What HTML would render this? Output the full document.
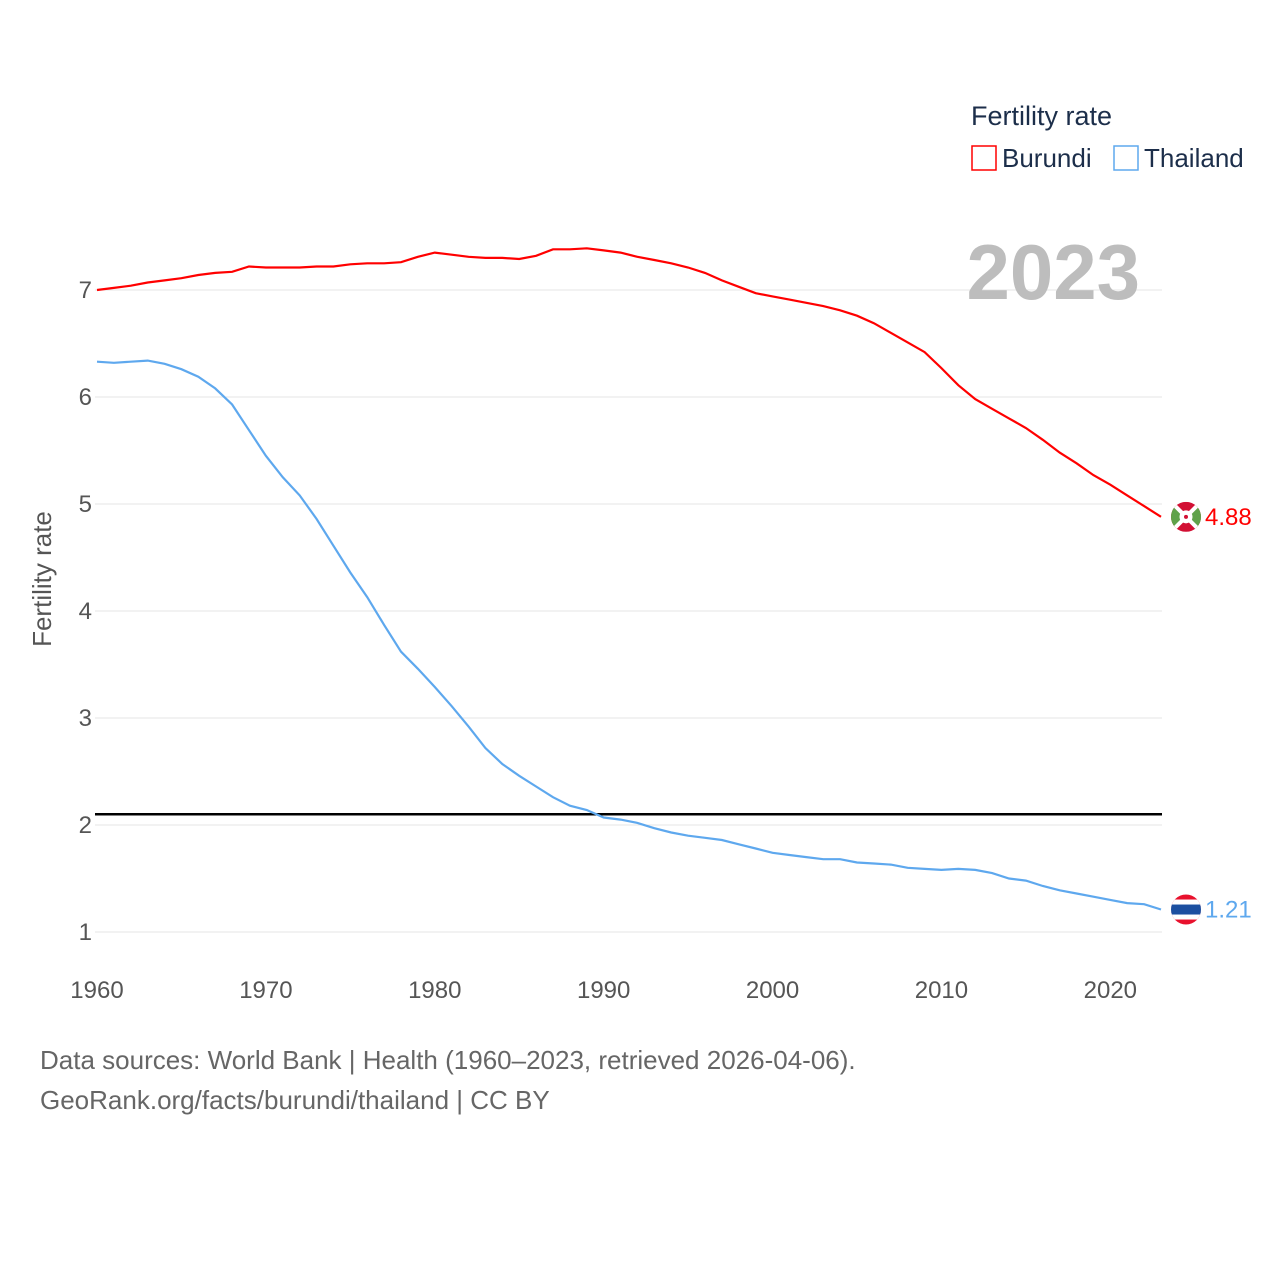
<!DOCTYPE html>
<html><head><meta charset="utf-8">
<style>
body{margin:0;background:#fff;font-family:"Liberation Sans",sans-serif}
svg{display:block}
text{font-family:"Liberation Sans",sans-serif}
</style></head>
<body>
<svg id="chart" width="1280" height="1280" viewBox="0 0 1280 1280">
<g id="grid"></g>
<g id="yticks"></g>
<g id="xticks"></g>
<text x="51" y="579" transform="rotate(-90 51 579)" text-anchor="middle" font-size="26" fill="#555">Fertility rate</text>
<text x="1140" y="299" text-anchor="end" font-size="78" font-weight="bold" fill="#bdbdbd">2023</text>
<line id="repl" stroke="#000" stroke-width="2.5"/>
<path id="bur" fill="none" stroke="#ff0000" stroke-width="2.2"/>
<path id="tha" fill="none" stroke="#5ea8ee" stroke-width="2.2"/>
<g>
<text x="971" y="125" font-size="27" fill="#1c2e4a">Fertility rate</text>
<g>
<rect x="972" y="146" width="24" height="24" fill="#fff" stroke="#ff0000" stroke-width="1.5"/>
<text x="1002" y="167" font-size="26" fill="#1c2e4a">Burundi</text></g>
<g>
<rect x="1114" y="146" width="24" height="24" fill="#fff" stroke="#5ea8ee" stroke-width="1.5"/>
<text x="1144" y="167" font-size="26" fill="#1c2e4a">Thailand</text></g>
</g>
<defs>
<clipPath id="cB"><circle id="cBc" cx="1186" cy="0" r="15"/></clipPath>
<clipPath id="cT"><circle id="cTc" cx="1186" cy="0" r="15"/></clipPath>
</defs>
<g id="flagB" clip-path="url(#cB)"></g>
<g id="flagT" clip-path="url(#cT)"></g>
<text id="labB" font-size="24" fill="#ff0000"></text>
<text id="labT" font-size="24" fill="#5ea8ee"></text>
<text x="40" y="1069" font-size="26" fill="#666">Data sources: World Bank | Health (1960–2023, retrieved 2026-04-06).</text>
<text x="40" y="1109" font-size="26" fill="#666">GeoRank.org/facts/burundi/thailand | CC BY</text>
</svg>
<script>
const years=[];for(let y=1960;y<=2023;y++)years.push(y);
const burundi=[7.00,7.02,7.04,7.07,7.09,7.11,7.14,7.16,7.17,7.22,7.21,7.21,7.21,7.22,7.22,7.24,7.25,7.25,7.26,7.31,7.35,7.33,7.31,7.30,7.30,7.29,7.32,7.38,7.38,7.39,7.37,7.35,7.31,7.28,7.25,7.21,7.16,7.09,7.03,6.97,6.94,6.91,6.88,6.85,6.81,6.76,6.69,6.60,6.51,6.42,6.27,6.11,5.98,5.89,5.80,5.71,5.60,5.48,5.38,5.27,5.18,5.08,4.98,4.88];
const thailand=[6.33,6.32,6.33,6.34,6.31,6.26,6.19,6.08,5.93,5.69,5.45,5.25,5.08,4.86,4.61,4.36,4.13,3.87,3.62,3.46,3.29,3.11,2.92,2.72,2.57,2.46,2.36,2.26,2.18,2.14,2.07,2.05,2.02,1.97,1.93,1.90,1.88,1.86,1.82,1.78,1.74,1.72,1.70,1.68,1.68,1.65,1.64,1.63,1.60,1.59,1.58,1.59,1.58,1.55,1.50,1.48,1.43,1.39,1.36,1.33,1.30,1.27,1.26,1.21];
const yTicks=[1,2,3,4,5,6,7];
const xTicks=[1960,1970,1980,1990,2000,2010,2020];
const replacement=2.1;
const NS="http://www.w3.org/2000/svg";
const X=y=>97+(y-1960)*(1064/63);
const Y=v=>932-(v-1)*107;
function mk(tag,attrs,parent){const e=document.createElementNS(NS,tag);for(const k in attrs)e.setAttribute(k,attrs[k]);parent.appendChild(e);return e;}
const grid=document.getElementById('grid'),yt=document.getElementById('yticks'),xt=document.getElementById('xticks');
yTicks.forEach(v=>{
 const l=mk('line',{x1:95,x2:1162,y1:Y(v),y2:Y(v),stroke:'#e6e6e6','stroke-width':1},grid);
 
 
 const t=mk('text',{x:92,y:Y(v)+8,'text-anchor':'end','font-size':24,fill:'#555'},yt);t.textContent=v;
 
 
});
xTicks.forEach(v=>{
 const t=mk('text',{x:X(v),y:998,'text-anchor':'middle','font-size':24,fill:'#555'},xt);t.textContent=v;
 
 
});
const r=document.getElementById('repl');
r.setAttribute('x1',95);r.setAttribute('x2',1162);r.setAttribute('y1',Y(replacement));r.setAttribute('y2',Y(replacement));
const P=a=>a.map((v,i)=>(i?'L':'M')+X(years[i]).toFixed(1)+','+Y(v).toFixed(1)).join('');
document.getElementById('bur').setAttribute('d',P(burundi));
document.getElementById('tha').setAttribute('d',P(thailand));
const bl=burundi[burundi.length-1],tl=thailand[thailand.length-1];
const cx=1186;
const fb=document.getElementById('flagB'),by=Y(bl);
document.getElementById('cBc').setAttribute('cy',by);
mk('rect',{x:cx-15,y:by-15,width:30,height:30,fill:'#d21034'},fb);
mk('path',{d:`M${cx-15},${by-15}L${cx},${by}L${cx-15},${by+15}Z M${cx+15},${by-15}L${cx},${by}L${cx+15},${by+15}Z`,fill:'#5fa24a'},fb);
mk('line',{x1:cx-15,y1:by-15,x2:cx+15,y2:by+15,stroke:'#fff','stroke-width':4},fb);
mk('line',{x1:cx-15,y1:by+15,x2:cx+15,y2:by-15,stroke:'#fff','stroke-width':4},fb);
mk('circle',{cx:cx,cy:by,r:6.5,fill:'#fff'},fb);
mk('circle',{cx:cx,cy:by,r:2,fill:'#d21034'},fb);
const ft=document.getElementById('flagT'),ty=Y(tl);
document.getElementById('cTc').setAttribute('cy',ty);
mk('rect',{x:cx-15,y:ty-15,width:30,height:30,fill:'#e8112d'},ft);
mk('rect',{x:cx-15,y:ty-10,width:30,height:20,fill:'#fff'},ft);
mk('rect',{x:cx-15,y:ty-5,width:30,height:10,fill:'#1c4fa0'},ft);
const lb=document.getElementById('labB');lb.setAttribute('x',1205);lb.setAttribute('y',by+8);lb.textContent=bl.toFixed(2);
const lt=document.getElementById('labT');lt.setAttribute('x',1205);lt.setAttribute('y',ty+8);lt.textContent=tl.toFixed(2);
</script>
</body></html>
